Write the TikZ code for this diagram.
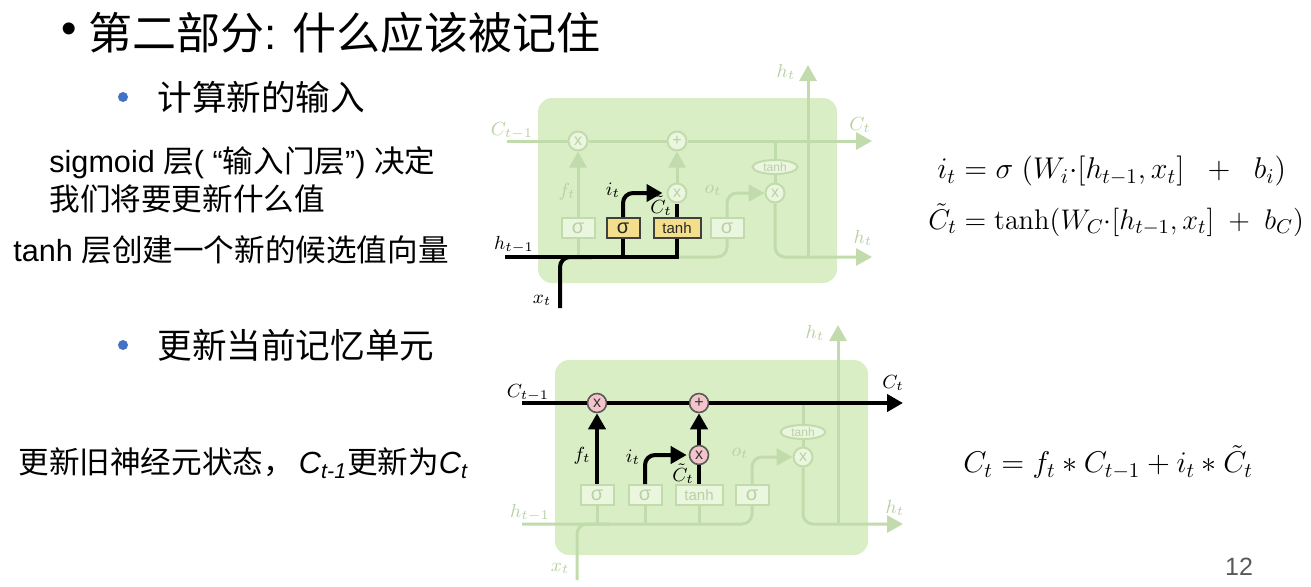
\RequirePackage{fix-cm}
\documentclass[tikz,border=0pt]{standalone}
\usepackage[no-math]{fontspec}
\setmainfont{Liberation Sans}
\newfontfamily\cjk{Noto Sans CJK SC}
\usetikzlibrary{arrows.meta,positioning,shapes.geometric}
\definecolor{CellGreen}{HTML}{DAEEC5}
\definecolor{FadeLine}{HTML}{C2DBAC}
\definecolor{FadeText}{HTML}{B9D0A6}
\definecolor{GateYellow}{HTML}{F3DE8C}
\definecolor{OpPink}{HTML}{F4C4CB}
\definecolor{BulletBlue}{HTML}{4472C4}
\definecolor{PageGray}{HTML}{595959}
\tikzset{
  cellbg/.style={fill=CellGreen, draw=none, rounded corners=7pt},
  gatebox/.style={rectangle, draw=FadeLine, line width=1pt, fill=CellGreen!55!white, text=FadeText, minimum width=16.5pt, minimum height=10pt, inner sep=0pt, font=\fontsize{10}{10}\selectfont},
  gatelit/.style={gatebox, draw=black!75, fill=GateYellow, text=black!85},
  widegate/.style={minimum width=23.5pt, font=\fontsize{7.5}{8}\selectfont},
  opnode/.style={circle, draw=FadeLine, line width=1pt, fill=CellGreen!55!white, text=FadeText, minimum size=9.5pt, inner sep=0pt, font=\fontsize{8}{8}\selectfont},
  oplit/.style={opnode, draw=black!65, line width=0.8pt, fill=OpPink, text=black!80},
  tanhring/.style={ellipse, draw=FadeLine, line width=1pt, fill=CellGreen!55!white, text=FadeText, minimum width=22.5pt, minimum height=7pt, inner sep=0pt, font=\fontsize{6}{6}\selectfont},
  fadeline/.style={draw=FadeLine, line width=1.5pt},
  boldline/.style={draw=black, line width=2pt},
  headarrow/.style={-{Triangle[length=8pt,width=8.5pt]}},
  fadelabel/.style={text=FadeText, inner sep=0pt, font=\fontsize{9.5}{10}\selectfont},
  darklabel/.style={text=black, inner sep=0pt, font=\fontsize{9.5}{10}\selectfont},
  slidetitle/.style={anchor=west, inner sep=0pt, font=\fontsize{22}{26}\selectfont},
  bullettext/.style={anchor=west, inner sep=0pt, font=\fontsize{17.3}{21}\selectfont},
  bodytext/.style={anchor=west, inner sep=0pt, font=\fontsize{15.3}{18}\selectfont},
  eqn/.style={anchor=west, inner sep=0pt, font=\fontsize{15}{18}\selectfont},
  bluedot/.style={circle, fill=BulletBlue, minimum size=5pt, inner sep=0pt}
}
\begin{document}
\begin{tikzpicture}[x=0.5pt, y=-0.5pt]
  \useasboundingbox (0,0) rectangle (1311,586);

  % slide text
  \node[slidetitle] (titledot) at (61,33) {•};
  \node[slidetitle] (title) at (88,33) {{\cjk 第二部分}: {\cjk 什么应该被记住}};
  \node[bluedot] (dotone) at (123,97) {};
  \node[bullettext] (newinput) at (157,97) {\cjk 计算新的输入};
  \node[bodytext] (sigline) at (49,163) {sigmoid {\cjk 层}( “{\cjk 输入门层}”) {\cjk 决定}};
  \node[bodytext] (sigtwo) at (49,199) {\cjk 我们将要更新什么值};
  \node[bodytext] (tanhline) at (13,250) {tanh {\cjk 层创建一个新的候选值向量}};
  \node[bluedot] (dottwo) at (123,345) {};
  \node[bullettext] (newcell) at (157,345) {\cjk 更新当前记忆单元};
  \node[bodytext] (cellline) at (18,463) {{\cjk 更新旧神经元状态，}\,\textit{C}\textsubscript{\textit{t-1}}{\cjk 更新为}\textit{C}\textsubscript{\textit{t}}};

  % equations
  \node[eqn] (eqi) at (937,171) {$i_t = \sigma\;(W_i{\cdot}[h_{t-1},x_t]\ \;+\;\ b_i)$};
  \node[eqn, font=\fontsize{14.2}{17}\selectfont] (eqc) at (928,220) {$\tilde{C}_t = \tanh(W_C{\cdot}[h_{t-1},x_t]\ +\ b_C)$};
  \node[eqn] (eqnew) at (963,462) {$C_t = f_t * C_{t-1} + i_t * \tilde{C}_t$};
  \node[inner sep=0pt, text=PageGray, font=\fontsize{12.5}{14}\selectfont] (pagenum) at (1239,567) {12};

  % top cell: input gate
  \fill[cellbg] (538,98) rectangle (837,283);
  \coordinate (CinT) at (507,141);
  \coordinate (CoutT) at (872,141);
  \coordinate (ctapT) at (775,141);
  \coordinate (hinT) at (505,257);
  \coordinate (xinT) at (560,308);
  \coordinate (xjT) at (592,257);
  \coordinate (hvT) at (808,257);
  \coordinate (htopT) at (808,65);
  \coordinate (houtT) at (872,257);
  \node[opnode] (fxT) at (578,141) {x};
  \node[opnode] (plusT) at (677,141) {+};
  \node[opnode] (ixT) at (677,193) {x};
  \node[opnode] (oxT) at (775,193) {x};
  \node[tanhring] (thT) at (775,167) {tanh};
  \node[gatebox] (s1T) at (578,228) {σ};
  \node[gatelit] (s2T) at (623,228) {σ};
  \node[gatelit, widegate] (tbT) at (677,228) {tanh};
  \node[gatebox] (s4T) at (727,228) {σ};
  \draw[fadeline] (CinT) -- (fxT);
  \draw[fadeline] (fxT) -- (plusT);
  \draw[fadeline, headarrow] (plusT) -- (CoutT);
  \draw[fadeline, headarrow] (s1T) -- (fxT);
  \draw[fadeline, headarrow] (ixT) -- (plusT);
  \draw[fadeline] (ctapT) -- (thT);
  \draw[fadeline] (thT) -- (oxT);
  \draw[fadeline, rounded corners=5pt] (hinT) -| (s4T.south);
  \draw[fadeline] (s1T.south) -- (s1T.south |- hinT);
  \draw[fadeline, headarrow, rounded corners=5pt] (s4T.north) |- (oxT.west);
  \draw[fadeline, headarrow, rounded corners=5pt] (oxT.south) |- (houtT);
  \draw[fadeline, headarrow] (hvT) -- (htopT);
  \draw[boldline] (hinT) -| (tbT.south);
  \draw[boldline] (s2T.south) -- (s2T.south |- hinT);
  \draw[boldline, rounded corners=5pt] (xinT) |- (xjT);
  \draw[boldline, headarrow, rounded corners=5pt, shorten >=2pt] (s2T.north) |- (ixT.west);
  \draw[boldline] (tbT.north) -- (ixT.south);
  \node[fadelabel] (lcinT) at (512,131) {$C_{t-1}$};
  \node[fadelabel] (lcoutT) at (860,125) {$C_t$};
  \node[fadelabel] (lhtopT) at (786,72) {$h_t$};
  \node[fadelabel] (lhoutT) at (863,238) {$h_t$};
  \node[darklabel] (lhinT) at (514,245) {$h_{t-1}$};
  \node[darklabel] (lxinT) at (542,300) {$x_t$};
  \node[fadelabel] (lfT) at (567,192) {$f_t$};
  \node[darklabel] (liT) at (613,190) {$i_t$};
  \node[darklabel] (lctT) at (661,206) {$\tilde{C}_t$};
  \node[fadelabel] (loT) at (713,190) {$o_t$};

  % bottom cell: state update
  \fill[cellbg] (555,360) rectangle (868,555);
  \coordinate (CinB) at (522,403);
  \coordinate (CoutB) at (903,403);
  \coordinate (ctapB) at (803,403);
  \coordinate (hinB) at (522,524);
  \coordinate (xinB) at (577,580);
  \coordinate (xjB) at (610,524);
  \coordinate (hvB) at (838,524);
  \coordinate (htopB) at (838,325);
  \coordinate (houtB) at (903,524);
  \node[oplit] (fxB) at (597,403) {x};
  \node[oplit] (plusB) at (699,403) {+};
  \node[oplit] (ixB) at (699,455) {x};
  \node[opnode] (oxB) at (803,457) {x};
  \node[tanhring] (thB) at (803,432) {tanh};
  \node[gatebox] (s1B) at (597,495) {σ};
  \node[gatebox] (s2B) at (645,495) {σ};
  \node[gatebox, widegate] (tbB) at (699,495) {tanh};
  \node[gatebox] (s4B) at (752,495) {σ};
  \draw[fadeline, rounded corners=5pt] (hinB) -| (s4B.south);
  \draw[fadeline] (s1B.south) -- (s1B.south |- hinB);
  \draw[fadeline] (s2B.south) -- (s2B.south |- hinB);
  \draw[fadeline] (tbB.south) -- (tbB.south |- hinB);
  \draw[fadeline, rounded corners=5pt] (xinB) |- (xjB);
  \draw[fadeline, headarrow, rounded corners=5pt] (s4B.north) |- (oxB.west);
  \draw[fadeline] (ctapB) -- (thB);
  \draw[fadeline] (thB) -- (oxB);
  \draw[fadeline, headarrow, rounded corners=5pt] (oxB.south) |- (houtB);
  \draw[fadeline, headarrow] (hvB) -- (htopB);
  \draw[boldline] (CinB) -- (fxB);
  \draw[boldline] (fxB) -- (plusB);
  \draw[boldline, headarrow] (plusB) -- (CoutB);
  \draw[boldline, headarrow] (s1B) -- (fxB);
  \draw[boldline, headarrow, rounded corners=5pt, shorten >=1pt] (s2B.north) |- (ixB.west);
  \draw[boldline] (tbB.north) -- (ixB.south);
  \draw[boldline, headarrow] (ixB) -- (plusB);
  \node[darklabel] (lcinB) at (528,393) {$C_{t-1}$};
  \node[darklabel] (lcoutB) at (893,383) {$C_t$};
  \node[fadelabel] (lhtopB) at (815,333) {$h_t$};
  \node[fadelabel] (lhoutB) at (895,508) {$h_t$};
  \node[fadelabel] (lhinB) at (530,513) {$h_{t-1}$};
  \node[fadelabel] (lxinB) at (560,568) {$x_t$};
  \node[darklabel] (lfB) at (582,456) {$f_t$};
  \node[darklabel] (liB) at (633,457) {$i_t$};
  \node[darklabel] (lctB) at (683,474) {$\tilde{C}_t$};
  \node[fadelabel] (loB) at (740,453) {$o_t$};
\end{tikzpicture}
\end{document}
